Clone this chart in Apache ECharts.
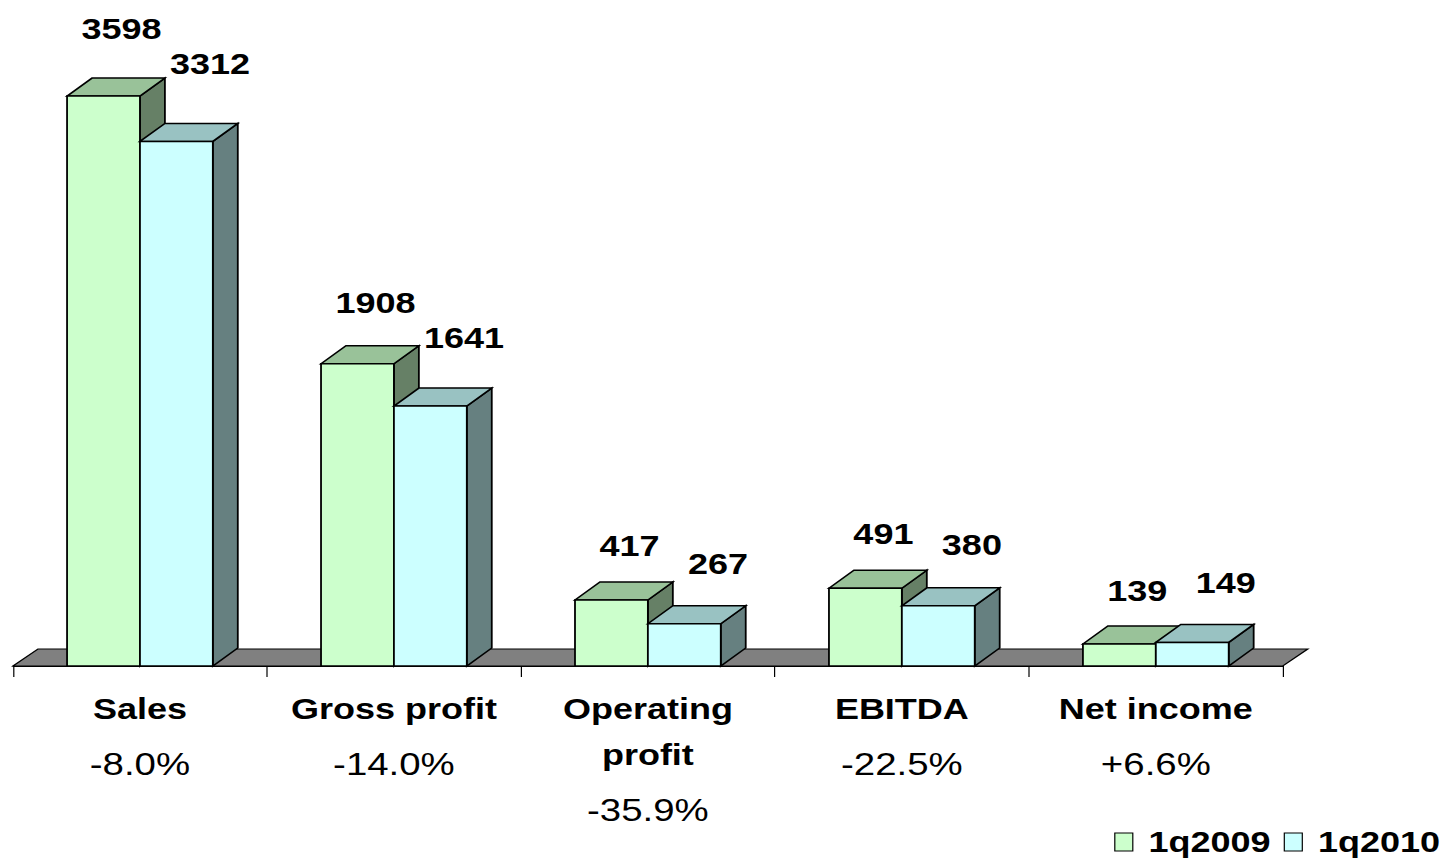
<!DOCTYPE html>
<html>
<head>
<meta charset="utf-8">
<script src="https://cdn.jsdelivr.net/npm/echarts@6/dist/echarts.min.js"></script>
<style>
  html, body { margin: 0; padding: 0; background: #fff; overflow: hidden; }
  /* the original picture is stretched sideways, so the chart is too */
  #chart { width: 1209px; height: 864px; transform: scaleX(1.2); transform-origin: 0 0; }
</style>
</head>
<body>
<div id="chart"></div>
<script>
var categories = ['Sales', 'Gross profit', 'Operating\nprofit', 'EBITDA', 'Net income'];
var changes = ['-8.0%', '-14.0%', '-35.9%', '-22.5%', '+6.6%'];
var q2009 = [3598, 1908, 417, 491, 139];
var q2010 = [3312, 1641, 267, 380, 149];

var FONT = 'Arial, Liberation Sans, sans-serif';
var DX = 20.8, DY = -18;   // 3d depth of the boxes
var BAR = 0.287;           // share of the band for one box

var colors = {
  '1q2009': { front: '#CCFFCC', top: '#99C299', side: '#668066' },
  '1q2010': { front: '#CCFFFF', top: '#99C2C2', side: '#668080' }
};

function box(side, name, labelDx, labelA, labelB) {
  return function (params, api) {
    var i = api.value(0), v = api.value(1);
    var top = api.coord([i, v]);
    var base = api.coord([i, 0]);
    var bw = api.size([1, 0])[0];
    var x0 = side < 0 ? top[0] - BAR * bw : top[0];
    var x1 = x0 + BAR * bw;
    var yt = top[1], yb = base[1];
    var c = colors[name];
    var line = { stroke: '#000', lineWidth: 1.5 };
    return {
      type: 'group',
      children: [
        {
          type: 'polygon',
          shape: { points: [[x1, yt], [x1 + DX, yt + DY], [x1 + DX, yb + DY], [x1, yb]] },
          style: Object.assign({ fill: c.side }, line)
        },
        {
          type: 'polygon',
          shape: { points: [[x0, yt], [x0 + DX, yt + DY], [x1 + DX, yt + DY], [x1, yt]] },
          style: Object.assign({ fill: c.top }, line)
        },
        {
          type: 'rect',
          shape: { x: x0, y: yt, width: x1 - x0, height: yb - yt },
          style: Object.assign({ fill: c.front }, line)
        },
        {
          type: 'text',
          z2: 10,
          style: {
            text: String(v),
            x: (x0 + x1) / 2 + labelDx,
            y: yt - labelA - labelB * (yb - yt),
            fill: '#000',
            fontFamily: FONT,
            fontSize: 30,
            fontWeight: 'bold',
            align: 'center',
            verticalAlign: 'middle'
          }
        }
      ]
    };
  };
}

function toData(arr) {
  return arr.map(function (v, i) { return [i, v]; });
}

var myChart = echarts.init(document.getElementById('chart'), null, { renderer: 'svg' });
var option = {
  animation: false,
  backgroundColor: '#fff',
  grid: { left: 10.8, right: 140, top: 32.4, bottom: 198 },
  legend: {
    data: ['1q2009', '1q2010'],
    right: 4,
    top: 822,
    icon: 'rect',
    itemWidth: 15,
    itemHeight: 18,
    itemGap: 11,
    itemStyle: { borderColor: '#000', borderWidth: 1 },
    textStyle: { fontFamily: FONT, fontSize: 30, fontWeight: 'bold', color: '#000', padding: [0, 0, 0, 8] }
  },
  xAxis: {
    type: 'category',
    data: categories,
    axisLine: { lineStyle: { color: '#000', width: 1 } },
    axisTick: { show: true, length: 11, lineStyle: { color: '#000' } },
    axisLabel: {
      margin: 20,
      interval: 0,
      formatter: function (value, idx) {
        var lines = value.split('\n').map(function (s) { return '{b|' + s + '}'; });
        lines.push('{p|' + changes[idx] + '}');
        return lines.join('\n');
      },
      rich: {
        b: { fontFamily: FONT, fontSize: 30, fontWeight: 'bold', color: '#000', lineHeight: 46 },
        p: { fontFamily: FONT, fontSize: 32, color: '#000', lineHeight: 64 }
      }
    }
  },
  yAxis: { type: 'value', min: 0, max: 4000, show: false, splitLine: { show: false } },
  series: [
    {
      // grey floor of the 3d plot
      type: 'custom',
      silent: true,
      z: 1,
      data: [[0, 0]],
      renderItem: function (params, api) {
        var cs = params.coordSys;
        var y = cs.y + cs.height, xa = cs.x, xb = cs.x + cs.width;
        return {
          type: 'polygon',
          shape: { points: [[xa, y], [xa + DX, y - 17], [xb + DX, y - 17], [xb, y]] },
          style: { fill: '#808080', stroke: '#000', lineWidth: 1.2 }
        };
      }
    },
    {
      name: '1q2009',
      type: 'custom',
      z: 2,
      itemStyle: { color: '#CCFFCC' },
      data: toData(q2009),
      renderItem: box(-1, '1q2009', 15, 53, 0.026)
    },
    {
      name: '1q2010',
      type: 'custom',
      z: 3,
      itemStyle: { color: '#CCFFFF' },
      data: toData(q2010),
      renderItem: box(1, '1q2010', 28, 59, 0.035)
    }
  ]
};
myChart.setOption(option);
</script>
</body>
</html>
